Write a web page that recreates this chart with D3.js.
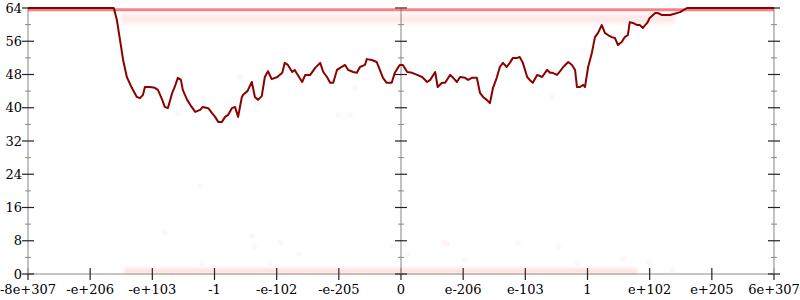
<!DOCTYPE html>
<html>
<head>
<meta charset="utf-8">
<script src="https://cdn.jsdelivr.net/npm/d3@7"></script>
<style>
  body { margin: 0; background: #fff; }
  svg text { font-family: "DejaVu Serif", serif; font-size: 13px; fill: #000; }
</style>
</head>
<body>
<div id="chart"></div>
<script>
// x positions are in tick units (0 = first label, 12 = last label)
const xTickLabels = ["-8e+307", "-e+206", "-e+103", "-1", "-e-102", "-e-205", "0",
                     "e-206", "e-103", "1", "e+102", "e+205", "6e+307"];
const yTicks = [0, 8, 16, 24, 32, 40, 48, 56, 64];
const yMinorTicks = [4, 12, 20, 28, 36, 44, 52, 60];

const lineX = [0, 1.38, 1.43, 1.48, 1.53, 1.59, 1.67, 1.75, 1.80, 1.85, 1.88, 1.96, 2.04, 2.09, 2.16, 2.20,
  2.25, 2.32, 2.36, 2.41, 2.46, 2.49, 2.56, 2.61, 2.69, 2.77, 2.81, 2.90, 2.96, 3.01, 3.06, 3.12,
  3.17, 3.22, 3.28, 3.33, 3.38, 3.44, 3.46, 3.53, 3.60, 3.65, 3.70, 3.76, 3.81, 3.86, 3.92, 4.01,
  4.09, 4.13, 4.18, 4.25, 4.29, 4.34, 4.41, 4.46, 4.54, 4.62, 4.70, 4.75, 4.81, 4.86, 4.91, 4.97,
  5.02, 5.10, 5.15, 5.23, 5.29, 5.34, 5.42, 5.45, 5.53, 5.61, 5.66, 5.71, 5.77, 5.85, 5.90, 5.95,
  5.98, 6.03, 6.10, 6.18, 6.26, 6.34, 6.42, 6.47, 6.55, 6.59, 6.66, 6.71, 6.79, 6.84, 6.90, 6.95,
  7.03, 7.08, 7.14, 7.22, 7.27, 7.32, 7.38, 7.43, 7.48, 7.54, 7.59, 7.64, 7.70, 7.75, 7.80, 7.87,
  7.91, 7.96, 8.03, 8.07, 8.12, 8.19, 8.27, 8.35, 8.40, 8.44, 8.51, 8.56, 8.61, 8.69, 8.75, 8.80,
  8.83, 8.88, 8.93, 8.96, 9.01, 9.07, 9.12, 9.17, 9.23, 9.28, 9.33, 9.39, 9.44, 9.49, 9.55, 9.60,
  9.65, 9.68, 9.73, 9.80, 9.84, 9.89, 9.96, 10.00, 10.09, 10.13, 10.20, 10.28, 10.33, 10.49, 10.60, 12];
const lineY = [64, 64, 61.1, 56.3, 51.5, 47.4, 44.8, 42.6, 42.3, 43.1, 45.0, 45.0, 44.8, 44.3, 41.9, 40.2,
  39.9, 43.6, 45.0, 47.2, 46.7, 44.3, 41.9, 40.7, 39.0, 39.5, 40.2, 39.9, 38.7, 37.8, 36.6, 36.6,
  37.8, 38.3, 39.9, 40.2, 37.8, 42.6, 43.1, 44.0, 46.2, 42.6, 41.9, 42.8, 47.4, 48.8, 46.9, 47.4,
  48.4, 50.8, 50.3, 48.6, 49.1, 47.9, 46.2, 47.9, 47.9, 49.6, 50.8, 48.6, 47.4, 46.0, 46.0, 49.1,
  49.6, 50.3, 49.1, 48.6, 48.4, 49.8, 50.3, 51.7, 51.5, 51.0, 49.1, 47.2, 46.0, 46.0, 48.4, 49.6,
  50.3, 50.3, 48.6, 48.4, 47.9, 47.4, 46.2, 46.7, 48.6, 45.0, 46.0, 46.0, 47.9, 47.2, 46.2, 47.4,
  47.2, 46.7, 47.2, 47.2, 43.6, 42.6, 41.9, 41.1, 44.8, 47.2, 49.8, 50.8, 49.8, 50.8, 52.0, 52.0,
  52.2, 50.8, 47.4, 46.7, 46.0, 47.9, 47.4, 49.1, 48.4, 48.4, 47.9, 48.8, 49.8, 51.0, 50.3, 49.1,
  45.0, 45.0, 45.5, 45.0, 49.8, 53.2, 57.0, 58.0, 59.9, 58.0, 57.5, 57.0, 56.8, 55.1, 55.8, 57.0,
  57.5, 60.6, 60.4, 59.9, 59.9, 59.2, 60.4, 61.6, 62.8, 62.8, 62.3, 62.3, 62.3, 63.0, 64, 64];

// faint sample clouds: [x, y]
const topBand = [[0, 63.55], [12, 63.55]];
const upperCloud = [[1.5, 61.4], [10.4, 61.4]];
const floorBand = [[1.55, 0.7], [9.8, 0.7]];
const strayPoints = [[2.20, 9.9], [3.60, 9.1], [3.64, 6.5], [2.80, 2.6], [4.07, 7.5], [4.36, 4.8],
  [3.89, 2.6], [5.87, 6.7], [6.10, 4.6], [6.68, 7.7], [6.74, 7.2], [7.03, 3.4], [7.88, 7.5],
  [8.53, 6.5], [8.84, 2.6], [9.57, 3.6], [9.99, 2.6], [10.37, 1.0], [3.41, 47.4], [2.41, 38.7],
  [3.68, 41.1], [5.26, 44.8], [4.99, 38.3], [5.18, 38.3], [8.43, 42.6], [2.77, 21.2]];

const width = 800, height = 300;
const svg = d3.select("#chart").append("svg")
    .attr("width", width)
    .attr("height", height);

const blur = svg.append("defs").append("filter")
    .attr("id", "soft")
    .attr("filterUnits", "userSpaceOnUse")
    .attr("x", 0).attr("y", 0)
    .attr("width", width).attr("height", height);
blur.append("feGaussianBlur").attr("stdDeviation", 1.6);

const x = d3.scaleLinear().domain([0, 12]).range([28, 774]);
const y = d3.scaleLinear().domain([0, 64]).range([274, 8]);

const axisColor = "#b3b3b3";

// vertical axes: left, center (0) and right
function renderYAxis(px, withLabels) {
    const g = svg.append("g").attr("class", "y-axis");
    g.append("line")
        .attr("x1", px).attr("x2", px)
        .attr("y1", y(0)).attr("y2", y(64))
        .attr("stroke", axisColor).attr("stroke-width", 1.6);
    g.selectAll(".minor").data(yMinorTicks).enter().append("line")
        .attr("x1", px - 3).attr("x2", px + 3)
        .attr("y1", d => y(d)).attr("y2", d => y(d))
        .attr("stroke", "#888").attr("stroke-width", 1);
    g.selectAll(".major").data(yTicks).enter().append("line")
        .attr("x1", px - 6).attr("x2", px + 6)
        .attr("y1", d => y(d)).attr("y2", d => y(d))
        .attr("stroke", "#222").attr("stroke-width", 1.2);
    if (withLabels) {
        g.selectAll("text").data(yTicks).enter().append("text")
            .attr("x", px - 6)
            .attr("y", d => y(d))
            .attr("dy", "0.35em")
            .attr("text-anchor", "end")
            .text(d => d);
    }
}

// x axis
const xg = svg.append("g").attr("class", "x-axis");
xg.append("line")
    .attr("x1", x(0)).attr("x2", x(12))
    .attr("y1", y(0)).attr("y2", y(0))
    .attr("stroke", axisColor).attr("stroke-width", 1.6);
xg.selectAll(".tick").data(xTickLabels).enter().append("g")
    .attr("class", "tick")
    .attr("transform", (d, i) => `translate(${x(i)},${y(0)})`)
    .each(function(d) {
        d3.select(this).append("line")
            .attr("y1", -6).attr("y2", 6)
            .attr("stroke", "#222").attr("stroke-width", 1.2);
        d3.select(this).append("text")
            .attr("y", 20)
            .attr("text-anchor", "middle")
            .text(d);
    });

renderYAxis(x(0), true);
renderYAxis(x(6), false);
renderYAxis(x(12), false);

// faint sample clouds
const band = d3.line().x(d => x(d[0])).y(d => y(d[1]));
svg.append("path").datum(upperCloud)
    .attr("d", band).attr("fill", "none")
    .attr("filter", "url(#soft)")
    .attr("stroke", "#ff3030").attr("stroke-opacity", 0.11).attr("stroke-width", 9);
svg.append("path").datum(floorBand)
    .attr("d", band).attr("fill", "none")
    .attr("filter", "url(#soft)")
    .attr("stroke", "#ff3030").attr("stroke-opacity", 0.15).attr("stroke-width", 5);
svg.append("path").datum(topBand)
    .attr("d", band).attr("fill", "none")
    .attr("stroke", "#f03030").attr("stroke-opacity", 0.6).attr("stroke-width", 3);
svg.selectAll(".stray").data(strayPoints).enter().append("circle")
    .attr("class", "stray")
    .attr("cx", d => x(d[0])).attr("cy", d => y(d[1]))
    .attr("r", 3)
    .attr("fill", "#ff3030").attr("fill-opacity", 0.04);

// main line
const line = d3.line()
    .x((d, i) => x(lineX[i]))
    .y(d => y(d));
svg.append("path").datum(lineY)
    .attr("d", line)
    .attr("fill", "none")
    .attr("stroke", "#8b0000")
    .attr("stroke-width", 2)
    .attr("stroke-linejoin", "round");
</script>
</body>
</html>
